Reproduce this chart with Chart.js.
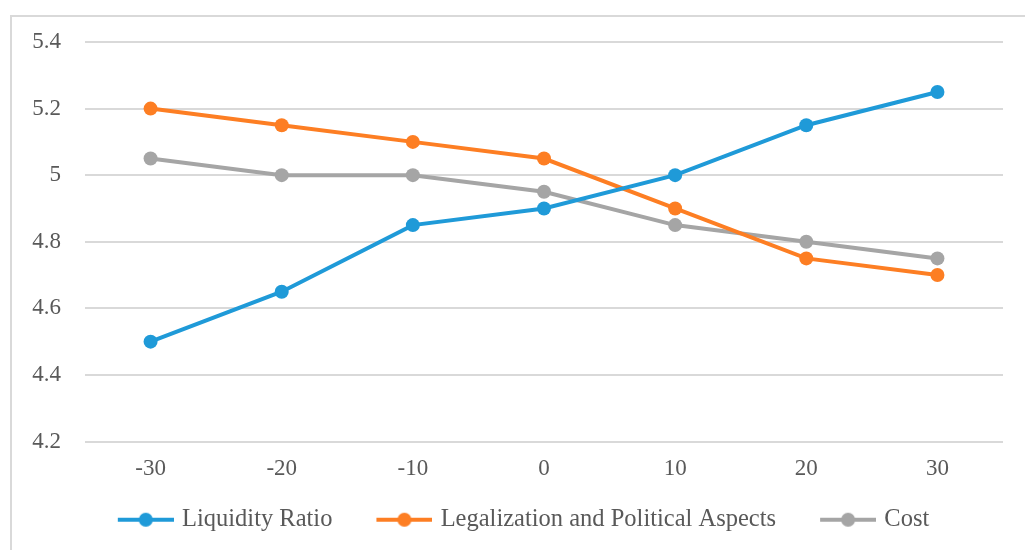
<!DOCTYPE html>
<html>
<head>
<meta charset="utf-8">
<script src="https://cdn.jsdelivr.net/npm/chart.js@4/dist/chart.umd.min.js"></script>
<style>
  html, body { margin: 0; padding: 0; background: #ffffff; }
  #wrap { position: relative; width: 1025px; height: 550px; overflow: hidden; }
  #frame { position: absolute; left: 10px; top: 15px; width: 1030px; height: 560px; border: 2px solid #d9d9d9; box-sizing: border-box; pointer-events: none; }
  canvas { position: absolute; left: 0; top: 0; }
</style>
</head>
<body>
<div id="wrap">
  <div id="frame"></div>
  <canvas id="chart" width="1025" height="550"></canvas>
</div>
<script>
// Percentage change applied to each factor
const categories = ['-30', '-20', '-10', '0', '10', '20', '30'];

// Resulting scores per factor
const liquidityRatio = [4.50, 4.65, 4.85, 4.90, 5.00, 5.15, 5.25];
const legalization   = [5.20, 5.15, 5.10, 5.05, 4.90, 4.75, 4.70];
const cost           = [5.05, 5.00, 5.00, 4.95, 4.85, 4.80, 4.75];

const seriesNames = ['Liquidity Ratio', 'Legalization and Political Aspects', 'Cost'];
const yTicks = [4.2, 4.4, 4.6, 4.8, 5, 5.2, 5.4];

const colors = ['#1f9ad8', '#fd7e23', '#a5a5a5'];
const serif = '"Liberation Serif", "Times New Roman", serif';

// Legend swatch: a short line with a dot in the middle, with blank space on its left
function swatch(color) {
  const c = document.createElement('canvas');
  c.width = 78; c.height = 16;
  const g = c.getContext('2d');
  g.strokeStyle = color; g.lineWidth = 4;
  g.beginPath(); g.moveTo(22, 8); g.lineTo(78, 8); g.stroke();
  g.fillStyle = color;
  g.beginPath(); g.arc(50, 8, 7, 0, Math.PI * 2); g.fill();
  return c;
}

function series(label, data, color) {
  return {
    label, data,
    borderColor: color, backgroundColor: color,
    borderWidth: 4,
    pointRadius: 7, pointHoverRadius: 7,
    pointBackgroundColor: color, pointBorderColor: color, pointBorderWidth: 0,
    tension: 0
  };
}

new Chart(document.getElementById('chart'), {
  type: 'line',
  data: {
    labels: categories,
    datasets: [
      series(seriesNames[0], liquidityRatio, colors[0]),
      series(seriesNames[1], legalization, colors[1]),
      series(seriesNames[2], cost, colors[2])
    ]
  },
  options: {
    responsive: false,
    animation: false,
    layout: { padding: { left: 26, right: 22, top: 42, bottom: 8 } },
    plugins: {
      tooltip: { enabled: false },
      legend: {
        position: 'bottom',
        labels: {
          usePointStyle: true,
          pointStyleWidth: 70,
          padding: 26,
          color: '#595959',
          font: { family: serif, size: 24.5 },
          generateLabels(chart) {
            return chart.data.datasets.map((ds, i) => ({
              text: ds.label,
              pointStyle: swatch(colors[i]),
              fillStyle: colors[i],
              strokeStyle: colors[i],
              lineWidth: 0,
              fontColor: '#595959',
              datasetIndex: i,
              hidden: false
            }));
          }
        }
      }
    },
    scales: {
      x: {
        offset: true,
        grid: { display: false, drawTicks: false },
        border: { display: false },
        ticks: { color: '#595959', font: { family: serif, size: 23 }, padding: 14, maxRotation: 0 },
        afterFit(scale) { scale.height = 40; }
      },
      y: {
        min: 4.2, max: 5.4,
        afterBuildTicks(scale) { scale.ticks = yTicks.map(v => ({ value: v })); },
        grid: { color: '#d9d9d9', lineWidth: 2, drawTicks: false },
        border: { display: false },
        ticks: {
          color: '#595959', font: { family: serif, size: 23 }, padding: 24,
          callback: v => String(v)
        },
        afterFit(scale) { scale.width = 59; }
      }
    }
  }
});
</script>
</body>
</html>
